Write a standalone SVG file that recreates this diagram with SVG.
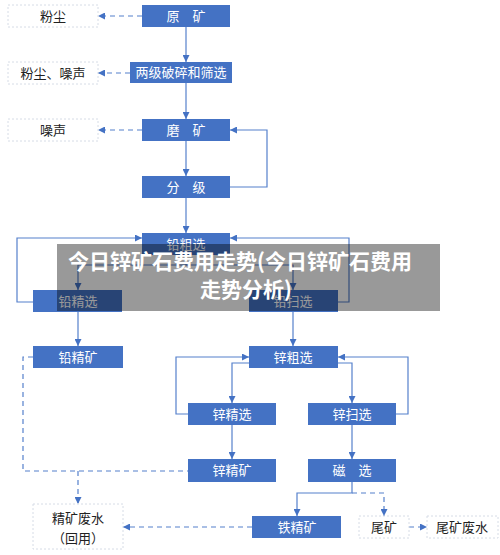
<svg xmlns="http://www.w3.org/2000/svg" width="500" height="555" viewBox="0 0 500 555">
<defs>
<marker id="ah" viewBox="0 0 10 10" refX="10" refY="5" markerWidth="7" markerHeight="7" orient="auto" markerUnits="userSpaceOnUse">
<path d="M0,0 L10,5 L0,10 z" fill="#4472C4"/>
</marker>
</defs>
<style>
.b{fill:#4472C4;}
.w{fill:#fff;stroke:#d6dce6;stroke-width:1;stroke-dasharray:2,2;}
.bt{fill:#fff;font-family:"Noto Sans CJK SC","Noto Sans",sans-serif;font-size:13px;text-anchor:middle;}
.wt{fill:#222;font-family:"Noto Sans CJK SC","Noto Sans",sans-serif;font-size:13px;text-anchor:middle;}
.l{fill:none;stroke:#5580cc;stroke-width:1.2;}
.d{fill:none;stroke:#5580cc;stroke-width:1.2;stroke-dasharray:5,4;}
.ban{fill:#fff;font-family:"Noto Sans CJK SC","Noto Sans",sans-serif;font-size:21px;font-weight:bold;}
</style>
<rect width="500" height="555" fill="#fff"/>
<g id="connectors">
<path class="l" d="M186,27 V62" marker-end="url(#ah)"/>
<path class="l" d="M186,83 V119" marker-end="url(#ah)"/>
<path class="l" d="M186,141 V176" marker-end="url(#ah)"/>
<path class="l" d="M186,198 V233" marker-end="url(#ah)"/>
<path class="l" d="M230,187 H267 V130 H230" marker-end="url(#ah)"/>
<path class="d" d="M142,16 H98" marker-end="url(#ah)"/>
<path class="d" d="M130,73 H98" marker-end="url(#ah)"/>
<path class="d" d="M142,130 H98" marker-end="url(#ah)"/>
<path class="l" d="M186,255 V265 H78 V290" marker-end="url(#ah)"/>
<path class="l" d="M186,265 H293 V290" marker-end="url(#ah)"/>
<path class="l" d="M33,302 H17 V238 H142" marker-end="url(#ah)"/>
<path class="l" d="M338,302 H349 V238 H230" marker-end="url(#ah)"/>
<path class="l" d="M78,312 V346" marker-end="url(#ah)"/>
<path class="l" d="M293,312 V346" marker-end="url(#ah)"/>
<path class="l" d="M249,363 H232 V403" marker-end="url(#ah)"/>
<path class="l" d="M188,414 H176 V357 H249" marker-end="url(#ah)"/>
<path class="l" d="M338,363 H352 V403" marker-end="url(#ah)"/>
<path class="l" d="M396,414 H408 V357 H338" marker-end="url(#ah)"/>
<path class="l" d="M232,425 V459" marker-end="url(#ah)"/>
<path class="l" d="M352,425 V459" marker-end="url(#ah)"/>
<path class="l" d="M352,482 V493 H297 V516" marker-end="url(#ah)"/>
<path class="d" d="M352,493 H384 V516" marker-end="url(#ah)"/>
<path class="d" d="M33,357 H23 V471 H188"/>
<path class="d" d="M78,471 V504" marker-end="url(#ah)"/>
<path class="d" d="M252,527 H123" marker-end="url(#ah)"/>
<path class="d" d="M409,527 H427" marker-end="url(#ah)"/>
</g>
<g id="n-yuankuang"><rect class="b" x="142" y="5" width="88" height="22"/><text class="bt" x="186" y="21">原　矿</text></g>
<g id="n-fenchen"><rect class="w" x="8" y="5" width="90" height="22"/><text class="wt" x="53" y="21">粉尘</text></g>
<g id="n-posui"><rect class="b" x="130" y="62" width="102" height="21"/><text class="bt" x="181" y="77">两级破碎和筛选</text></g>
<g id="n-fenchen2"><rect class="w" x="8" y="62" width="90" height="22"/><text class="wt" x="53" y="78">粉尘、噪声</text></g>
<g id="n-mokuang"><rect class="b" x="142" y="119" width="88" height="22"/><text class="bt" x="186" y="135">磨　矿</text></g>
<g id="n-zaosheng"><rect class="w" x="8" y="119" width="90" height="22"/><text class="wt" x="53" y="135">噪声</text></g>
<g id="n-fenji"><rect class="b" x="142" y="176" width="88" height="22"/><text class="bt" x="186" y="192">分　级</text></g>
<g id="n-qiancu"><rect class="b" x="142" y="233" width="88" height="22"/><text class="bt" x="186" y="249">铅粗选</text></g>
<g id="n-qianjing"><rect class="b" x="33" y="290" width="89" height="22"/><text class="bt" x="78" y="306">铅精选</text></g>
<g id="n-qiansao"><rect class="b" x="249" y="290" width="89" height="22"/><text class="bt" x="293" y="306">铅扫选</text></g>
<g id="n-qianjingkuang"><rect class="b" x="33" y="346" width="90" height="22"/><text class="bt" x="78" y="362">铅精矿</text></g>
<g id="n-xincu"><rect class="b" x="249" y="346" width="89" height="22"/><text class="bt" x="293" y="362">锌粗选</text></g>
<g id="n-xinjing"><rect class="b" x="188" y="403" width="88" height="22"/><text class="bt" x="232" y="419">锌精选</text></g>
<g id="n-xinsao"><rect class="b" x="308" y="403" width="88" height="22"/><text class="bt" x="352" y="419">锌扫选</text></g>
<g id="n-xinjingkuang"><rect class="b" x="188" y="459" width="88" height="23"/><text class="bt" x="232" y="475">锌精矿</text></g>
<g id="n-cixuan"><rect class="b" x="308" y="459" width="88" height="23"/><text class="bt" x="352" y="475">磁　选</text></g>
<g id="n-tiejingkuang"><rect class="b" x="252" y="516" width="89" height="22"/><text class="bt" x="297" y="532">铁精矿</text></g>
<g id="n-weikuang"><rect class="w" x="359" y="516" width="50" height="22"/><text class="wt" x="384" y="532">尾矿</text></g>
<g id="n-weikuangfeishui"><rect class="w" x="427" y="516" width="71" height="22"/><text class="wt" x="462" y="532">尾矿废水</text></g>
<g id="n-jingkuangfeishui"><rect class="w" x="33" y="504" width="90" height="45"/><text class="wt" x="78" y="523">精矿废水</text><text class="wt" x="78" y="543">（回用）</text></g>
<g id="banner">
<rect x="57" y="244" width="383" height="67" fill="#000" fill-opacity="0.4"/>
<text class="ban" x="68" y="269">今日锌矿石费用走势(今日锌矿石费用</text>
<text class="ban" x="200" y="297">走势分析)</text>
</g>
</svg>
